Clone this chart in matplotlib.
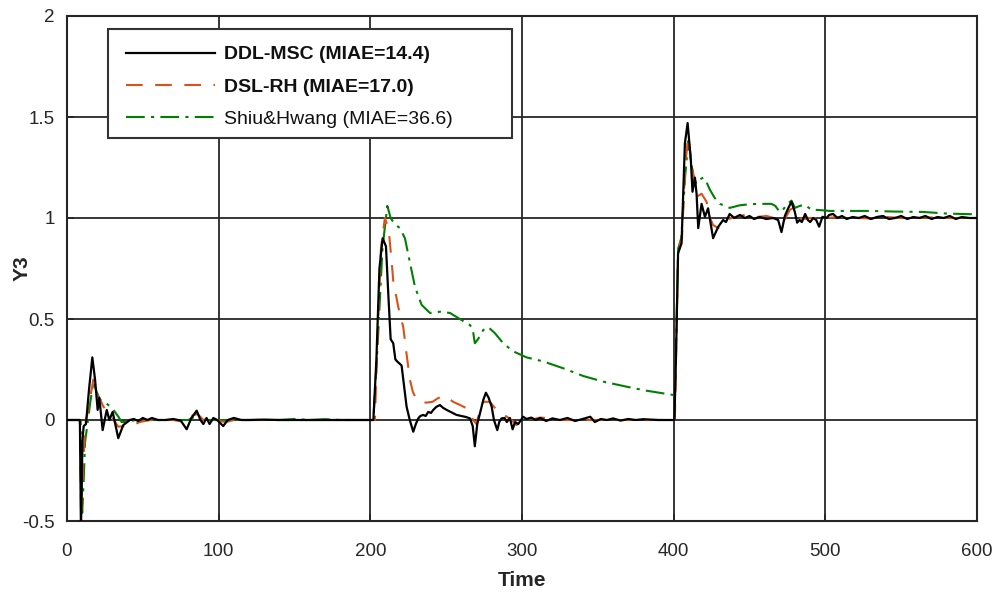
import matplotlib
matplotlib.use("Agg")
import matplotlib.pyplot as plt
from matplotlib.patches import Rectangle

# ---------------- data ----------------
labels = ["DDL-MSC (MIAE=14.4)", "DSL-RH (MIAE=17.0)", "Shiu&Hwang (MIAE=36.6)"]
xticks = [0, 100, 200, 300, 400, 500, 600]
yticks = [-0.5, 0, 0.5, 1, 1.5, 2]

t_ddl = [0, 8.5, 9.2, 10.2, 11, 12.5, 14.5, 16.7, 18.5, 20.2, 21.3, 23.5, 26.2, 27.9, 30.1, 33.8,
         37.1, 41.5, 44, 47, 50, 53, 56, 60, 65, 70, 75, 78.9, 82, 85.5, 88, 89.9, 92, 94, 96.5,
         99, 103, 106, 110, 115, 120, 130, 140, 150, 160, 170, 180, 190, 202,
         204, 206, 208.1, 210.3, 212, 213.4, 215.1, 216.5, 217.7, 220.6, 222.5, 223.9, 226, 228.3,
         230, 231.6, 233, 234.9, 236.5, 238.2, 240, 241.5, 243.5, 245.9, 248, 250.3, 253, 256.9,
         260, 263, 265.7, 267.5, 268.9, 270.5, 272.2, 274.5, 276.2, 278, 280, 281.5, 283.7, 285,
         286.5, 288.5, 290, 292, 293.8, 295.5, 297.5, 300.8, 303, 306, 309, 312, 316, 320, 325,
         330, 335, 340, 345, 348, 352, 356, 360, 365, 370, 375, 380, 390, 400.5,
         401.5, 402.9, 405.2, 407.4, 409.2, 411.3, 412.4, 414, 415.1, 416.2, 418.4, 420.6, 422.7,
         426, 429.4, 432.6, 434.5, 436.9, 440, 443.6, 447, 450, 453, 456.8, 461, 465.6, 468.9,
         471.1, 473.3, 475.5, 477.7, 479.9, 481.4, 483, 484.5, 486.7, 488.5, 490, 492, 494, 495.9,
         498.1, 500.7, 502.5, 505.1, 508, 511, 514, 518, 522, 526, 530, 534, 538, 542, 546, 550,
         554, 558, 562, 566, 570, 574, 578, 582, 586, 590, 595, 600]
y_ddl = [0, 0, -0.55, -0.1, -0.03, -0.02, 0.15, 0.31, 0.2, 0.05, 0.11, -0.05, 0.05, 0.0, 0.04, -0.09,
         -0.025, 0.0, 0.005, -0.005, 0.01, 0.0, 0.01, 0.0, 0.0, 0.005, -0.003, -0.046, 0.01, 0.046, 0.0, -0.02, 0.01, -0.02, 0.01,
         0.0, -0.03, 0.0, 0.01, 0.0, 0.0, 0.002, 0.0, 0.0, 0.0, 0.0, 0.0, 0.0, 0.0,
         0.3, 0.75, 0.9, 0.86, 0.6, 0.4, 0.38, 0.3, 0.29, 0.27, 0.15, 0.066, 0.0, -0.058,
         -0.02, 0.008, 0.02, 0.025, 0.02, 0.04, 0.035, 0.05, 0.065, 0.074, 0.06, 0.05, 0.04, 0.025,
         0.02, 0.015, 0.008, -0.03, -0.13, -0.02, 0.03, 0.1, 0.135, 0.11, 0.066, 0.0, -0.05, -0.01,
         0.008, 0.01, -0.01, 0.01, -0.046, -0.01, -0.02, 0.016, 0.005, 0.012, 0.0, 0.01, -0.005, 0.008, 0.0,
         0.01, -0.005, 0.005, 0.016, -0.01, 0.005, 0.0, 0.008, -0.003, 0.005, 0.0, 0.004, 0.0, 0.0,
         0.3, 0.825, 0.875, 1.37, 1.47, 1.29, 1.13, 1.2, 1.12, 0.95, 1.07, 1.006, 1.048,
         0.9, 0.957, 0.99, 0.98, 1.02, 1.0, 1.015, 1.0, 1.01, 0.995, 1.005, 0.995, 1.0, 0.99,
         0.93, 1.01, 1.048, 1.08, 1.03, 0.977, 0.99, 0.98, 1.02, 0.99, 0.98, 1.0, 0.99, 0.957,
         1.006, 1.0, 1.015, 1.02, 1.0, 1.01, 0.995, 1.005, 1.0, 1.01, 0.995, 1.005, 1.01, 0.995, 1.0, 1.01,
         0.995, 1.005, 1.0, 1.01, 0.995, 1.005, 1.0, 1.01, 0.995, 1.005, 1.0, 1.0]

t_dsl = [0, 8.5, 9.3, 10.5, 12, 14, 15.5, 17.4, 19, 20.7, 22, 24, 27, 30, 33.8, 38, 43.5, 48, 55,
         70, 78, 82, 86, 90, 95, 100, 105, 110, 203,
         205, 207, 209.6, 211, 212.5, 214, 215.1, 218.4, 221.7, 224, 226.1, 228, 230.5, 234, 237.1,
         241, 244, 248, 251, 254.6, 259, 263.5, 266, 267.8, 270, 272, 274.4, 278.8, 283.2, 286.5,
         289.9, 293, 296.4, 300, 304, 308, 312, 316, 320, 400.8,
         401.5, 403, 405.5, 407.5, 409.6, 411, 412.9, 415.1, 418.4, 421.7, 424, 426, 429.4, 432,
         434.9, 438, 443.6, 450, 455, 461.2, 466, 472.2, 476.6, 478.8, 482.1, 486, 490, 500, 510,
         520, 530, 540, 550, 560, 570, 580, 600]
y_dsl = [0, 0, -0.48, -0.25, -0.02, 0.05, 0.12, 0.2, 0.14, 0.11, 0.1, 0.066, 0.04, 0.01, -0.033, -0.03, -0.025, -0.01, 0.0,
         0.0, -0.01, 0.02, 0.03, 0.0, 0.01, -0.005, -0.01, 0.0, 0.0,
         0.45, 0.85, 1.0, 0.97, 0.91, 0.79, 0.69, 0.56, 0.46, 0.32, 0.2, 0.14, 0.1, 0.088, 0.086,
         0.09, 0.105, 0.12, 0.11, 0.09, 0.075, 0.058, 0.03, 0.0, -0.02, 0.04, 0.09, 0.09, 0.05, 0.03,
         0.017, 0.0, -0.025, 0.0, 0.01, 0.005, 0.012, 0.01, 0.0, 0.0,
         0.3, 0.85, 0.9, 1.25, 1.41, 1.32, 1.22, 1.105, 1.12, 1.08, 1.0, 0.965, 0.95, 0.97,
         0.99, 1.0, 1.01, 1.02, 1.005, 1.01, 1.0, 0.98, 1.04, 1.05, 1.0, 0.995, 1.0, 1.0, 1.005,
         1.0, 0.998, 1.005, 1.0, 1.0, 1.003, 1.0, 1.0]

t_sh = [0, 9, 10, 11, 11.9, 13.5, 15.2, 17.4, 19.5, 21.8, 24.5, 27.3, 29.5, 31.6, 34, 36, 40, 45,
        80, 85, 90, 140, 150, 160, 170, 180, 202,
        205, 208, 211.2, 213.4, 216, 219.5, 222.8, 226.1, 229.4, 233.8, 239.3, 245.9, 252.5, 259,
        265.7, 267.5, 268.9, 271, 272.5, 274.4, 277.7, 282.1, 287.6, 294.2, 303, 314, 327.2, 340.3,
        353.5, 368.9, 382.1, 399.7, 400.8,
        403, 405, 407.5, 409.6, 411, 412.9, 415, 417, 419.5, 421.5, 423.9, 427, 430.5, 437, 443.6,
        450, 456.8, 464.5, 467, 469.9, 472, 475, 477.7, 479.9, 483.2, 486.5, 490.9, 495, 503, 516.2,
        530, 545, 564.5, 580, 600]
y_sh = [0, 0, -0.46, -0.3, -0.11, -0.02, 0.08, 0.19, 0.14, 0.1, 0.09, 0.074, 0.06, 0.04, 0.015, -0.01, -0.01, 0.0,
        0.0, 0.02, 0.0, 0.0, 0.005, 0.0, 0.004, 0.0, 0.0,
        0.4, 0.85, 1.06, 1.0, 0.97, 0.95, 0.9, 0.78, 0.66, 0.57, 0.53, 0.536, 0.53, 0.5,
        0.47, 0.45, 0.38, 0.4, 0.42, 0.445, 0.46, 0.43, 0.38, 0.34, 0.31, 0.29, 0.256, 0.218,
        0.19, 0.165, 0.145, 0.124, 0.12,
        0.85, 0.9, 1.2, 1.38, 1.3, 1.21, 1.17, 1.19, 1.2, 1.18, 1.14, 1.1, 1.07, 1.05, 1.063,
        1.068, 1.07, 1.07, 1.06, 1.03, 1.04, 1.07, 1.086, 1.05, 1.06, 1.066, 1.04, 1.04, 1.035, 1.035,
        1.035, 1.032, 1.03, 1.022, 1.018]

# ---------------- plot ----------------
plt.rcParams['font.family'] = ['Liberation Sans', 'DejaVu Sans']
fig = plt.figure(figsize=(9.98, 5.95), dpi=100)
ax = fig.add_axes([67/998, 1-521/595, 910/998, 505/595])

gc = '#262626'
ax.grid(True, color=gc, linewidth=1.3)
ax.set_axisbelow(True)

l1, = ax.plot(t_ddl, y_ddl, color='black', lw=1.6, zorder=5)
l2, = ax.plot(t_dsl, y_dsl, color='#D95319', lw=1.5, dashes=(8, 6), zorder=4)
l3, = ax.plot(t_sh, y_sh, color='#008000', lw=1.5, dashes=(9, 3, 1.5, 3), zorder=3)

ax.set_xlim(0, 600)
ax.set_ylim(-0.5, 2)
ax.set_xticks(xticks)
ax.set_yticks(yticks)
ax.set_yticklabels(['-0.5', '0', '0.5', '1', '1.5', '2'])
ax.tick_params(direction='in', length=5, width=1.3, colors=gc, labelsize=13.5, pad=9)
ax.tick_params(axis='x', pad=16)
for s in ax.spines.values():
    s.set_color(gc)
    s.set_linewidth(1.5)

ax.set_xlabel('Time', fontsize=15, fontweight='bold', color=gc)
ax.xaxis.set_label_coords(0.5, -(580-521)/505, transform=ax.transAxes)
ax.xaxis.label.set_va('center')
ax.set_ylabel('Y3', fontsize=15, fontweight='bold', color=gc)
ax.yaxis.set_label_coords(-(67-22)/910, 0.5, transform=ax.transAxes)
ax.yaxis.label.set_va('center')

# legend box
rect = Rectangle((108/998, 1-138/595), 404/998, 109/595, transform=fig.transFigure,
                 facecolor='white', edgecolor='#333333', linewidth=1.5, zorder=10, clip_on=False)
fig.patches.append(rect)

leg = fig.legend([l1, l2, l3], labels, loc='upper left',
                 bbox_to_anchor=(118/998, 1-38/595), frameon=False,
                 prop={'size': 14}, handlelength=4.6, handletextpad=0.45, labelspacing=0.75,
                 borderaxespad=0)
leg.set_zorder(11)
texts = leg.get_texts()
texts[0].set_fontweight('bold')
texts[1].set_fontweight('bold')
for t in texts:
    t.set_color('#111111')

fig.savefig('out.png', dpi=100)
